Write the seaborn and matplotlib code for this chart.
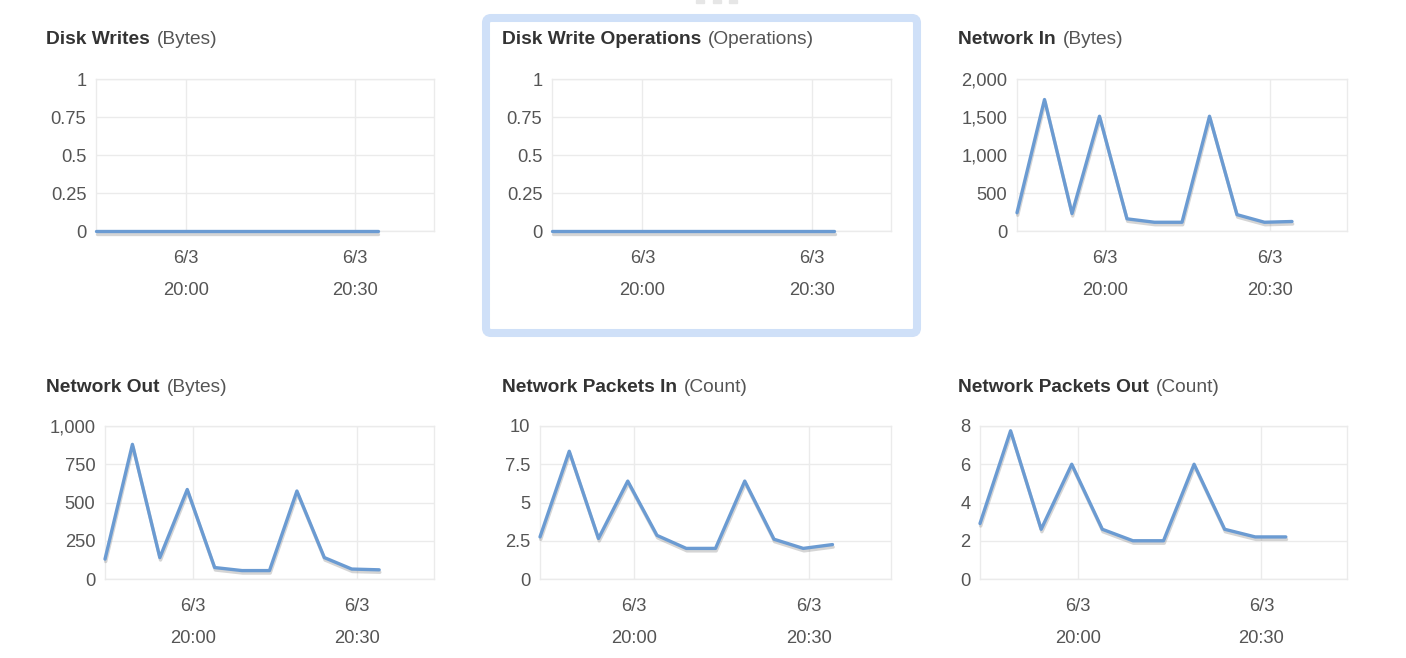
import matplotlib
matplotlib.use("Agg")
import matplotlib.pyplot as plt
import matplotlib.patheffects as pe
from matplotlib.patches import FancyBboxPatch, Rectangle
import pandas as pd
import seaborn as sns

# 5분 간격 측정 시각 (6/3)
times = pd.to_datetime([
    "2017-06-03 19:44", "2017-06-03 19:49", "2017-06-03 19:54", "2017-06-03 19:59",
    "2017-06-03 20:04", "2017-06-03 20:09", "2017-06-03 20:14", "2017-06-03 20:19",
    "2017-06-03 20:24", "2017-06-03 20:29", "2017-06-03 20:34",
])

disk_writes = [0, 0, 0, 0, 0, 0, 0, 0, 0, 0, 0]
disk_write_ops = [0, 0, 0, 0, 0, 0, 0, 0, 0, 0, 0]
network_in = [240, 1730, 230, 1510, 160, 115, 115, 1510, 215, 115, 125]
network_out = [130, 880, 140, 585, 75, 55, 55, 575, 140, 65, 60]
packets_in = [2.75, 8.35, 2.65, 6.4, 2.85, 2.0, 2.0, 6.4, 2.6, 2.0, 2.25]
packets_out = [2.9, 7.75, 2.6, 6.0, 2.6, 2.0, 2.0, 6.0, 2.6, 2.2, 2.2]

titles = ["Disk Writes", "Disk Write Operations", "Network In",
          "Network Out", "Network Packets In", "Network Packets Out"]
units = ["(Bytes)", "(Operations)", "(Bytes)", "(Bytes)", "(Count)", "(Count)"]
series = [disk_writes, disk_write_ops, network_in, network_out, packets_in, packets_out]

yticks = [
    [0, 0.25, 0.5, 0.75, 1],
    [0, 0.25, 0.5, 0.75, 1],
    [0, 500, 1000, 1500, 2000],
    [0, 250, 500, 750, 1000],
    [0, 2.5, 5, 7.5, 10],
    [0, 2, 4, 6, 8],
]
ytick_labels = [
    ["0", "0.25", "0.5", "0.75", "1"],
    ["0", "0.25", "0.5", "0.75", "1"],
    ["0", "500", "1,000", "1,500", "2,000"],
    ["0", "250", "500", "750", "1,000"],
    ["0", "2.5", "5", "7.5", "10"],
    ["0", "2", "4", "6", "8"],
]
xticks = pd.to_datetime(["2017-06-03 20:00", "2017-06-03 20:30"])
xtick_labels = ["6/3\n20:00", "6/3\n20:30"]
x_range = pd.to_datetime(["2017-06-03 19:44", "2017-06-03 20:44"])

sns.set_style("white")
plt.rcParams["font.family"] = ["Liberation Sans", "DejaVu Sans"]

W, H = 1406, 658
fig = plt.figure(figsize=(W / 100, H / 100), dpi=100)

# 축 위치 (픽셀): left, right, top, bottom
boxes = [
    (96, 434, 79, 231), (552, 891, 79, 231), (1017, 1347, 79, 231),
    (105, 434, 426, 579), (540, 891, 426, 579), (980, 1347, 426, 579),
]
title_pos = [(46, 44), (502, 44), (958, 44), (46, 392), (502, 392), (958, 392)]

line_color = "#6b9bd2"
grid_color = "#ebebeb"

for i in range(6):
    l, r, t, b = boxes[i]
    ax = fig.add_axes([l / W, 1 - b / H, (r - l) / W, (b - t) / H])
    df = pd.DataFrame({"time": times, "value": series[i]})
    sns.lineplot(data=df, x="time", y="value", ax=ax, color=line_color, lw=2.4,
                 clip_on=False, zorder=5,
                 path_effects=[pe.SimpleLineShadow(offset=(0.5, -1.8), shadow_color="#888888", alpha=0.35),
                               pe.Normal()])
    ax.set_xlim(x_range[0], x_range[1])
    ax.set_ylim(yticks[i][0], yticks[i][-1])
    ax.set_yticks(yticks[i])
    ax.set_yticklabels(ytick_labels[i])
    ax.set_xticks(xticks)
    ax.set_xticklabels(xtick_labels, linespacing=2.15)
    ax.set_xlabel("")
    ax.set_ylabel("")
    ax.grid(True, color=grid_color, lw=1)
    for s in ax.spines.values():
        s.set_color(grid_color)
        s.set_linewidth(1)
        s.set_zorder(1)
    ax.tick_params(axis="both", length=0, labelsize=13.2, colors="#555555")
    ax.tick_params(axis="y", pad=7)
    ax.tick_params(axis="x", pad=13.5)

    tx, ty = title_pos[i]
    t1 = fig.text(tx / W, 1 - ty / H, titles[i], fontsize=13.8, fontweight="bold",
                  color="#333333", va="baseline", ha="left")
    ax.annotate(units[i], xy=(1, 0), xycoords=t1, xytext=(5, 0), textcoords="offset points",
                fontsize=13.8, color="#555555", va="bottom", ha="left", annotation_clip=False)

# 선택된 패널 테두리
fig.patches.append(FancyBboxPatch((4.86, (H - 333) / 100), 4.31, 3.15,
                                  boxstyle="round,pad=0,rounding_size=0.05",
                                  transform=fig.dpi_scale_trans, fill=False,
                                  ec="#cfe0f8", lw=5.8, figure=fig))
for dx in [6.96, 7.13, 7.29]:
    fig.patches.append(Rectangle((dx, (H - 2.5) / 100), 0.08, 0.025, transform=fig.dpi_scale_trans,
                                 color="#e6e6e6", figure=fig))

fig.savefig("out.png", dpi=100)
